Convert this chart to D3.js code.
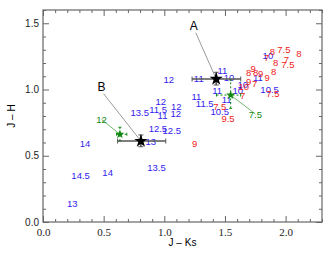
<!DOCTYPE html>
<html>
<head>
<meta charset="utf-8">
<script src="https://cdn.jsdelivr.net/npm/d3@7"></script>
<style>
  body { margin: 0; background: #fff; }
  svg { display: block; }
  .num { font-family: "Liberation Sans", Arial, sans-serif; font-size: 9.5px; }
</style>
</head>
<body>
<svg id="chart" width="330" height="255"></svg>
<script>
const X_DOMAIN = [0, 2.3];
const Y_DOMAIN = [0, 1.6];
const X_TICKS = [0, 0.5, 1.0, 1.5, 2.0];
const Y_TICKS = [0, 0.5, 1.0, 1.5];

// blue labels: [text, J-Ks, J-H]
const BLUE_LABELS = [
  ["12", 1.037, 1.072], ["12", 0.971, 0.908], ["13.5", 0.798, 0.828],
  ["11.5", 0.949, 0.851], ["11", 0.985, 0.802], ["12", 1.099, 0.868],
  ["12", 1.095, 0.820], ["12.5", 0.947, 0.706], ["12.5", 1.062, 0.694],
  ["13", 0.889, 0.606], ["13.5", 0.936, 0.408], ["14", 0.346, 0.589],
  ["14.5", 0.310, 0.352], ["14", 0.533, 0.377], ["13", 0.241, 0.138],
  ["11", 1.284, 1.083], ["11", 1.479, 1.142], ["10", 1.533, 1.087],
  ["11", 1.435, 0.991], ["10", 1.646, 1.034], ["10", 1.605, 0.989],
  ["11", 1.514, 0.921], ["11", 1.265, 0.946], ["11.5", 1.333, 0.896],
  ["10.5", 1.457, 0.832], ["10", 1.854, 1.260], ["11", 1.772, 1.094],
  ["10.5", 1.868, 1.002],
];

// red labels: [text, J-Ks, J-H]
const RED_LABELS = [
  ["9", 1.251, 0.596], ["7", 1.646, 0.958], ["10", 1.655, 1.020],
  ["7.5", 1.457, 0.868], ["9.5", 1.525, 0.783], ["8", 1.891, 1.285],
  ["7", 1.844, 1.242], ["7.5", 1.986, 1.303], ["8", 2.109, 1.273],
  ["8", 1.918, 1.202], ["7", 2.006, 1.223], ["7.5", 2.019, 1.185],
  ["8", 1.901, 1.134], ["9", 1.848, 1.094], ["8", 1.695, 1.132],
  ["9", 1.733, 1.155], ["8", 1.753, 1.125], ["9", 1.795, 1.117],
  ["9", 1.695, 1.064], ["7", 1.745, 1.047], ["7.5", 1.895, 0.971],
];

// black stars: [name, x, y, xlo, xhi, ylo, yhi, labelX, labelY]
const BLACK_STARS = [
  ["A", 1.428, 1.079, 1.229, 1.630, 1.034, 1.130, 1.243, 1.481],
  ["B", 0.807, 0.611, 0.615, 1.012, 0.568, 0.657, 0.483, 1.021],
];

// green stars: [text, x, y, xlo, xhi, ylo, yhi, labelX, labelY]
const GREEN_STARS = [
  ["12", 0.634, 0.662, 0.607, 0.691, 0.611, 0.715, 0.483, 0.774],
  ["7.5", 1.547, 0.958, 1.430, 1.630, 0.858, 1.072, 1.751, 0.815],
];

const BLUE = "#3322ee";
const RED = "#ee2222";
const GREEN = "#118811";

const svg = d3.select("#chart");
const plot = { left: 43, right: 322, top: 10, bottom: 222 };
const x = d3.scaleLinear().domain(X_DOMAIN).range([plot.left, plot.right]);
const y = d3.scaleLinear().domain(Y_DOMAIN).range([plot.bottom, plot.top]);

const minorX = d3.range(0, 2.31, 0.1).filter((v) => !X_TICKS.some((t) => Math.abs(t - v) < 1e-6));
const minorY = d3.range(0, 1.61, 0.1).filter((v) => !Y_TICKS.some((t) => Math.abs(t - v) < 1e-6));

function styleAxis(g) {
  g.select(".domain").remove();
  g.selectAll("line").attr("stroke", "#666");
}

// frame
svg.append("rect")
  .attr("x", plot.left).attr("y", plot.top)
  .attr("width", plot.right - plot.left).attr("height", plot.bottom - plot.top)
  .attr("fill", "none").attr("stroke", "#666").attr("stroke-width", 1.2);

// bottom axis
svg.append("g").attr("transform", `translate(0,${plot.bottom})`)
  .call(d3.axisBottom(x).tickValues(X_TICKS).tickSize(-6).tickPadding(6).tickFormat(d3.format(".1f")))
  .call(styleAxis)
  .call((g) => g.selectAll("text")
    .attr("font-family", "'Liberation Serif', 'Times New Roman', serif")
    .attr("font-size", 11).attr("fill", "#222"));
svg.append("g").attr("transform", `translate(0,${plot.bottom})`)
  .call(d3.axisBottom(x).tickValues(minorX).tickSize(-3).tickFormat(""))
  .call(styleAxis);
svg.append("g").attr("transform", `translate(0,${plot.top})`)
  .call(d3.axisTop(x).tickValues(X_TICKS).tickSize(-6).tickFormat(""))
  .call(styleAxis);
svg.append("g").attr("transform", `translate(0,${plot.top})`)
  .call(d3.axisTop(x).tickValues(minorX).tickSize(-3).tickFormat(""))
  .call(styleAxis);

// left axis
svg.append("g").attr("transform", `translate(${plot.left},0)`)
  .call(d3.axisLeft(y).tickValues(Y_TICKS).tickSize(-6).tickPadding(4).tickFormat(d3.format(".1f")))
  .call(styleAxis)
  .call((g) => g.selectAll("text")
    .attr("font-family", "'Liberation Sans', Arial, sans-serif")
    .attr("font-size", 10).attr("fill", "#222"));
svg.append("g").attr("transform", `translate(${plot.left},0)`)
  .call(d3.axisLeft(y).tickValues(minorY).tickSize(-3).tickFormat(""))
  .call(styleAxis);
svg.append("g").attr("transform", `translate(${plot.right},0)`)
  .call(d3.axisRight(y).tickValues(Y_TICKS).tickSize(-6).tickFormat(""))
  .call(styleAxis);
svg.append("g").attr("transform", `translate(${plot.right},0)`)
  .call(d3.axisRight(y).tickValues(minorY).tickSize(-3).tickFormat(""))
  .call(styleAxis);

// axis titles
svg.append("text")
  .attr("x", (plot.left + plot.right) / 2).attr("y", 246)
  .attr("text-anchor", "middle")
  .attr("font-family", "'Liberation Sans', Arial, sans-serif").attr("font-size", 10)
  .text("J – Ks");
svg.append("text")
  .attr("transform", `translate(15,${(plot.top + plot.bottom) / 2}) rotate(-90)`)
  .attr("text-anchor", "middle")
  .attr("font-family", "'Liberation Sans', Arial, sans-serif").attr("font-size", 10)
  .text("J – H");

// number labels
function drawLabels(data, color) {
  svg.append("g").selectAll("text")
    .data(data)
    .join("text")
    .attr("class", "num")
    .attr("x", (d) => x(d[1]))
    .attr("y", (d) => y(d[2]))
    .attr("text-anchor", "middle")
    .attr("dominant-baseline", "central")
    .attr("fill", color)
    .text((d) => d[0]);
}
drawLabels(BLUE_LABELS, BLUE);
drawLabels(RED_LABELS, RED);

function errorBars(g, d, color, width, dash, cap) {
  const bars = [
    [x(d[3]), y(d[2]), x(d[4]), y(d[2])],
    [x(d[1]), y(d[5]), x(d[1]), y(d[6])],
  ];
  bars.forEach(([x1, y1, x2, y2]) => {
    g.append("line").attr("x1", x1).attr("y1", y1).attr("x2", x2).attr("y2", y2)
      .attr("stroke", color).attr("stroke-width", width).attr("stroke-dasharray", dash);
  });
  g.append("line").attr("x1", x(d[3])).attr("x2", x(d[3])).attr("y1", y(d[2]) - cap).attr("y2", y(d[2]) + cap).attr("stroke", color);
  g.append("line").attr("x1", x(d[4])).attr("x2", x(d[4])).attr("y1", y(d[2]) - cap).attr("y2", y(d[2]) + cap).attr("stroke", color);
  g.append("line").attr("x1", x(d[1]) - cap).attr("x2", x(d[1]) + cap).attr("y1", y(d[5])).attr("y2", y(d[5])).attr("stroke", color);
  g.append("line").attr("x1", x(d[1]) - cap).attr("x2", x(d[1]) + cap).attr("y1", y(d[6])).attr("y2", y(d[6])).attr("stroke", color);
}

// green stars
GREEN_STARS.forEach((d) => {
  const g = svg.append("g");
  errorBars(g, d, GREEN, 1, "2,2", 1.5);
  g.append("line")
    .attr("x1", x(d[1])).attr("y1", y(d[2]))
    .attr("x2", x(d[7])).attr("y2", y(d[8]))
    .attr("stroke", GREEN).attr("stroke-width", 0.6);
  g.append("path")
    .attr("d", d3.symbol(d3.symbolStar, 26)())
    .attr("transform", `translate(${x(d[1])},${y(d[2])})`)
    .attr("fill", GREEN);
  g.append("text").attr("class", "num")
    .attr("x", x(d[7])).attr("y", y(d[8]))
    .attr("text-anchor", "middle").attr("dominant-baseline", "central")
    .attr("fill", GREEN).text(d[0]);
});

// black stars
BLACK_STARS.forEach((d) => {
  const g = svg.append("g");
  g.append("line")
    .attr("x1", x(d[7]) + 2).attr("y1", y(d[8]) + 7)
    .attr("x2", x(d[1])).attr("y2", y(d[2]))
    .attr("stroke", "#555").attr("stroke-width", 0.6);
  errorBars(g, d, "#555", 1.6, null, 2.5);
  g.append("path")
    .attr("d", d3.symbol(d3.symbolStar, 55)())
    .attr("transform", `translate(${x(d[1])},${y(d[2])})`)
    .attr("fill", "#000");
  g.append("text")
    .attr("x", x(d[7])).attr("y", y(d[8]))
    .attr("text-anchor", "middle").attr("dominant-baseline", "central")
    .attr("font-family", "'Liberation Sans', Arial, sans-serif").attr("font-size", 12)
    .text(d[0]);
});
</script>
</body>
</html>
